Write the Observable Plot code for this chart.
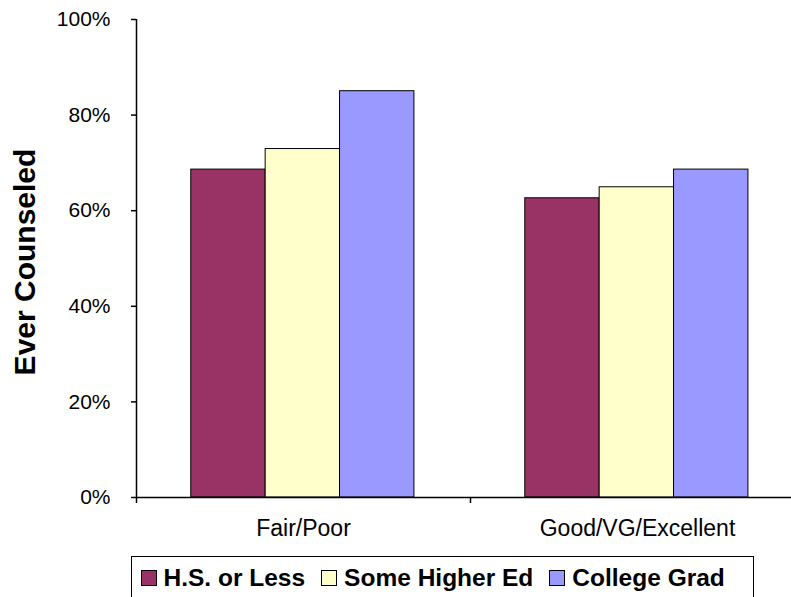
<!DOCTYPE html>
<html>
<head>
<meta charset="utf-8">
<script src="https://cdn.jsdelivr.net/npm/d3@7"></script>
<script src="https://cdn.jsdelivr.net/npm/@observablehq/plot@0.6"></script>
<style>
  html, body { margin: 0; padding: 0; background: #fff; overflow: hidden; }
  body { width: 791px; height: 597px; position: relative; font-family: "Liberation Sans", Arial, sans-serif; color: #000; }
  #chart svg { display: block; }
  #legend {
    position: absolute; left: 131px; top: 556px; width: 623px; height: 60px;
    border: 1.5px solid #000; background: #fff; box-sizing: border-box;
    display: flex; align-items: flex-start;
    padding: 8.5px 0 0 8.5px;
  }
  .item { display: flex; align-items: center; margin-right: 16px; height: 24.5px; }
  .swatch { width: 14px; height: 14px; border: 1px solid #000; margin-right: 7px; }
  .name { font-weight: bold; font-size: 24.5px; line-height: 24.5px; white-space: nowrap; }
</style>
</head>
<body>
<div id="chart"></div>
<div id="legend"></div>
<script>
// Share ever counseled, by self-rated health and education
const categories = ["Fair/Poor", "Good/VG/Excellent"];
const seriesNames = ["H.S. or Less", "Some Higher Ed", "College Grad"];
const seriesColors = ["#993366", "#FFFFCC", "#9999FF"];
const hsOrLess = [68.6, 62.6];
const someHigherEd = [72.9, 64.9];
const collegeGrad = [85.0, 68.6];
const yTicks = [0, 20, 40, 60, 80, 100];
const yLabel = "Ever Counseled";

const seriesValues = [hsOrLess, someHigherEd, collegeGrad];
const rows = categories.flatMap((category, ci) =>
  seriesNames.map((name, si) => ({ category, name, ci, si, value: seriesValues[si][ci] }))
);

// Each category spans one unit of x; its three bars sit side by side in the middle
const groupInset = 0.164;
const barWidth = 0.2227;

const chart = Plot.plot({
  width: 791,
  height: 552,
  marginLeft: 136,
  marginRight: 0,
  marginTop: 19,
  marginBottom: 55,
  style: { fontFamily: "'Liberation Sans', Arial, sans-serif", color: "#000", background: "#fff" },
  x: { type: "linear", domain: [0, categories.length], range: [136, 804] },
  y: { domain: [0, 100] },
  color: { domain: seriesNames, range: seriesColors },
  marks: [
    Plot.rect(rows, {
      x1: d => d.ci + groupInset + d.si * barWidth,
      x2: d => d.ci + groupInset + (d.si + 1) * barWidth,
      y1: 0,
      y2: "value",
      fill: "name",
      stroke: "#000",
      strokeWidth: 1
    }),
    Plot.ruleX([0], { stroke: "#000", strokeWidth: 1.5 }),
    Plot.ruleY([0], { stroke: "#000", strokeWidth: 1.5 }),
    Plot.axisY({
      ticks: yTicks, tickSize: 5, tickPadding: 21, tickFormat: d => d + "%",
      fontSize: 21, label: null, strokeWidth: 1.5
    }),
    Plot.axisX({
      ticks: d3.range(categories.length + 1), tickSize: 6, tickFormat: () => "",
      label: null, strokeWidth: 1.5
    }),
    Plot.axisX({
      ticks: categories.map((c, i) => i + 0.5), tickSize: 0, tickPadding: 22,
      tickFormat: t => categories[Math.floor(t)], fontSize: 23, label: null
    }),
    Plot.text([yLabel], {
      text: d => d, frameAnchor: "left", textAnchor: "middle", lineAnchor: "middle",
      rotate: -90, dx: -111, dy: 3.5,
      fontSize: 30, fontWeight: "bold", fill: "#000"
    })
  ]
});
document.getElementById("chart").append(chart);

// Legend box below the plot
const legend = d3.select("#legend");
seriesNames.forEach((name, i) => {
  const item = legend.append("div").attr("class", "item");
  item.append("div").attr("class", "swatch").style("background", seriesColors[i]);
  item.append("div").attr("class", "name").text(name);
});
</script>
</body>
</html>
